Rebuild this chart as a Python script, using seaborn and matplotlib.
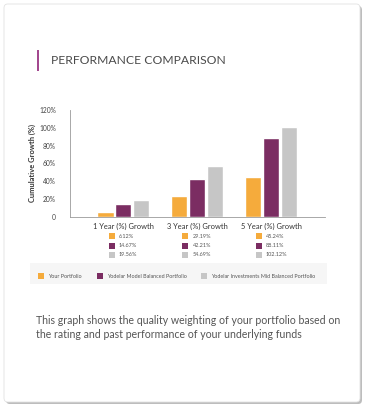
import pandas as pd
import numpy as np
import matplotlib
matplotlib.use('Agg')
import matplotlib.pyplot as plt
import seaborn as sns
from matplotlib.patches import FancyBboxPatch, Rectangle

# data
periods = ['1 Year (%) Growth', '3 Year (%) Growth', '5 Year (%) Growth']
series = ['Your Portfolio', 'Yodelar Model Balanced Portfolio', 'Yodelar Investments Mid Balanced Portfolio']
your_portfolio = [6.12, 24.0, 45.24]
model_balanced = [14.67, 42.21, 89.0]
mid_balanced = [19.56, 57.0, 101.0]
value_labels = [['6.12%', '14.67%', '19.56%'],
                ['29.19%', '42.21%', '54.69%'],
                ['45.24%', '88.11%', '102.12%']]
yticks = [0, 20, 40, 60, 80, 100, 120]
ytick_labels = ['0', '20%', '40%', '60%', '80%', '100%', '120%']
colors = ['#F5AB3C', '#7B2D62', '#C6C6C6']

df = pd.DataFrame({
    'Period': periods * 3,
    'Series': [s for s in series for _ in periods],
    'Growth': your_portfolio + model_balanced + mid_balanced,
})

sns.set_style('white')
plt.rcParams['font.family'] = ['Lato', 'DejaVu Sans']

W, H = 366, 405
fig = plt.figure(figsize=(W / 100, H / 100), dpi=100)
fig.patch.set_facecolor('white')

# card with shadow
shadow = FancyBboxPatch((6 / W, 1 / H), 356 / W, 398 / H, boxstyle='round,pad=0,rounding_size=0.01',
                        transform=fig.transFigure, facecolor='#bdbdbd', edgecolor='none', zorder=0)
card = FancyBboxPatch((4 / W, 3 / H), 356 / W, 398 / H, boxstyle='round,pad=0,rounding_size=0.01',
                      transform=fig.transFigure, facecolor='white', edgecolor='#e2e2e2', lw=0.6, zorder=1)
fig.patches.extend([shadow, card])

# title with accent bar
fig.patches.append(Rectangle((37 / W, 1 - 71 / H), 2 / W, 21 / H, transform=fig.transFigure,
                             facecolor='#A3488F', edgecolor='none', zorder=2))
fig.text(51 / W, 1 - 60 / H, 'PERFORMANCE COMPARISON', fontsize=8.7, color='#4a4a4a',
         va='center', ha='left', zorder=3)

ax = fig.add_axes([70 / W, 1 - 217 / H, 255 / W, 107 / H])
ax.set_zorder(3)
sns.barplot(data=df, x='Period', y='Growth', hue='Series', palette=colors,
            width=0.73, gap=0.08, ax=ax, legend=False, saturation=1)
ax.set_xlim(-0.72, 2.73)
ax.set_ylim(0, 120)
ax.set_yticks(yticks)
ax.set_yticklabels(ytick_labels)
ax.set_xticks([2.73], minor=True)
ax.set_xlabel('')
ax.set_ylabel('Cumulative Growth (%)', fontsize=5.4, color='#333333', fontweight='bold', labelpad=2)
ax.tick_params(axis='y', labelsize=4.8, colors='#444444', direction='in', length=3, width=0.5,
               color='#999999', pad=10)
ax.tick_params(axis='x', which='major', labelsize=5.4, colors='#333333', length=0, pad=4)
ax.tick_params(axis='x', which='minor', direction='in', length=2.5, width=0.5, color='#999999')
for s in ['top', 'right']:
    ax.spines[s].set_visible(False)
for s in ['left', 'bottom']:
    ax.spines[s].set_color('#9a9a9a')
    ax.spines[s].set_linewidth(0.6)
ax.patch.set_alpha(0)

# value table under each group
for i, labels in enumerate(value_labels):
    x0 = (112 + 73.5 * i) / W
    for j, lab in enumerate(labels):
        y = 1 - (236 + 9.5 * j) / H
        fig.patches.append(Rectangle((x0 - 3 / W, y - 3 / H), 6 / W, 6 / H, transform=fig.transFigure,
                                     facecolor=colors[j], edgecolor='none', zorder=3))
        fig.text(x0 + 7 / W, y, lab, fontsize=4.0, color='#555555', va='center', ha='left', zorder=3)

# legend strip
fig.patches.append(Rectangle((30 / W, 1 - 284 / H), 297 / W, 21 / H, transform=fig.transFigure,
                             facecolor='#f6f6f6', edgecolor='none', zorder=2))
leg_x = [41, 100, 204]
for j, name in enumerate(series):
    y = 1 - 276 / H
    fig.patches.append(Rectangle(((leg_x[j] - 3) / W, y - 3 / H), 6 / W, 6 / H, transform=fig.transFigure,
                                 facecolor=colors[j], edgecolor='none', zorder=3))
    fig.text((leg_x[j] + 7) / W, y, name, fontsize=3.9, color='#555555', va='center', ha='left', zorder=3)

fig.text(36 / W, 1 - 315 / H, 'This graph shows the quality weighting of your portfolio based on\n'
         'the rating and past performance of your underlying funds',
         fontsize=7.6, color='#555555', va='top', ha='left', linespacing=1.35, zorder=3)

fig.savefig('out.png', dpi=100)
